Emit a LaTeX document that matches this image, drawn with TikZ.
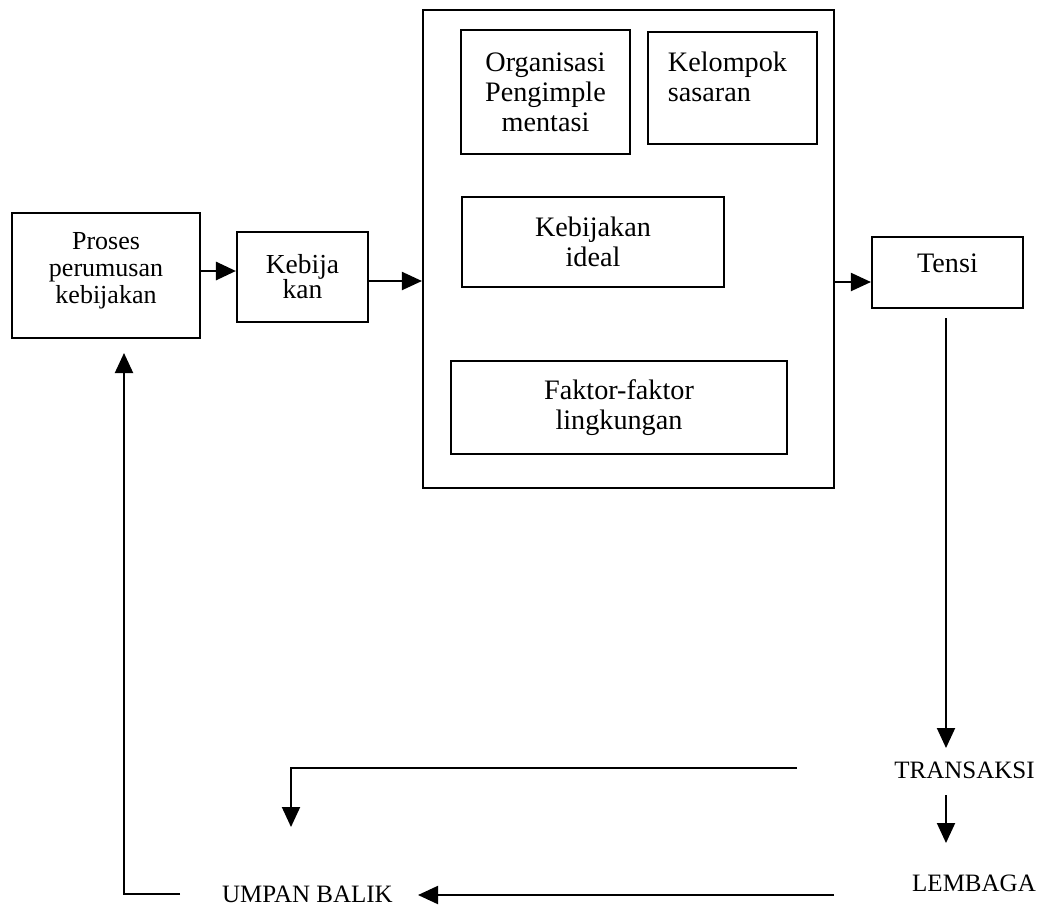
\documentclass[tikz,border=0pt]{standalone}
\usepackage{fontspec}
\setmainfont{Liberation Serif}
\usetikzlibrary{arrows.meta}
\begin{document}
\begin{tikzpicture}[x=1pt,y=-1pt,
  box/.style={draw, line width=2.1pt, inner sep=0pt, align=center, font=\fontsize{28}{30}\selectfont},
  txt/.style={inner sep=0pt, align=center, font=\fontsize{28.2}{30}\selectfont},
  flowlabel/.style={inner sep=0pt, font=\fontsize{25}{28}\selectfont},
  arr/.style={line width=2pt, -{Triangle[length=20pt,width=18pt]}}]
\useasboundingbox (0,0) rectangle (1040,911);

% boxes
\node[box, minimum width=188pt, minimum height=125pt,
  label={[txt, font=\fontsize{26}{27}\selectfont, yshift=5pt]center:{Proses\\perumusan\\kebijakan}}] (proses) at (106,275.5) {};
\node[box, minimum width=131pt, minimum height=90pt,
  label={[txt, font=\fontsize{27.5}{25}\selectfont]center:{Kebija\\kan}}] (kebija) at (302.5,277) {};
\node[box, minimum width=411pt, minimum height=478pt] (impl) at (628.5,249) {};
\node[box, minimum width=169pt, minimum height=124pt,
  label={[txt]center:{Organisasi\\Pengimple\\mentasi}}] (org) at (545.5,92) {};
\node[box, minimum width=169pt, minimum height=112pt,
  label={[txt, align=left, xshift=-5pt, yshift=11pt]center:{Kelompok\\sasaran}}] (kel) at (732.5,88) {};
\node[box, minimum width=262pt, minimum height=90pt,
  label={[txt]center:{Kebijakan\\ideal}}] (ideal) at (593,242) {};
\node[box, minimum width=336pt, minimum height=93pt,
  label={[txt]center:{Faktor-faktor\\lingkungan}}] (faktor) at (619,407.5) {};
\node[box, minimum width=151pt, minimum height=71pt,
  label={[txt, yshift=9.5pt]center:{Tensi}}] (tensi) at (947.5,272.5) {};

% bottom labels
\node[flowlabel] (transaksi) at (964.5,770) {TRANSAKSI};
\node[flowlabel] (lembaga) at (974,883) {LEMBAGA};
\node[flowlabel] (umpan) at (307.5,894) {UMPAN BALIK};

% connectors
\coordinate (p1) at ([yshift=4.5pt]proses.east);
\draw[arr, line width=2.8pt] (p1) -- (p1 -| kebija.west);
\coordinate (k1) at ([yshift=-4pt]kebija.east);
\draw[arr] (k1) -- (k1 -| impl.west);
\coordinate (t1) at ([yshift=-9.5pt]tensi.west);
\draw[arr] (t1 -| impl.east) -- (t1);

\coordinate (d1) at (946,318);
\coordinate (d2) at (946,748);
\draw[arr] (d1) -- (d2);
\coordinate (d3) at (946,795);
\coordinate (d4) at (946,843);
\draw[arr] (d3) -- (d4);

\coordinate (l1) at (797,768);
\coordinate (l2) at (291,768);
\coordinate (l3) at (291,827);
\draw[arr] (l1) -- (l2) -- (l3);

\coordinate (b1) at (834,895);
\coordinate (b2) at (418,895);
\draw[arr] (b1) -- (b2);

\coordinate (f1) at (180,894);
\coordinate (f2) at (124,894);
\coordinate (f3) at (124,353);
\draw[arr] (f1) -- (f2) -- (f3);
\end{tikzpicture}
\end{document}
